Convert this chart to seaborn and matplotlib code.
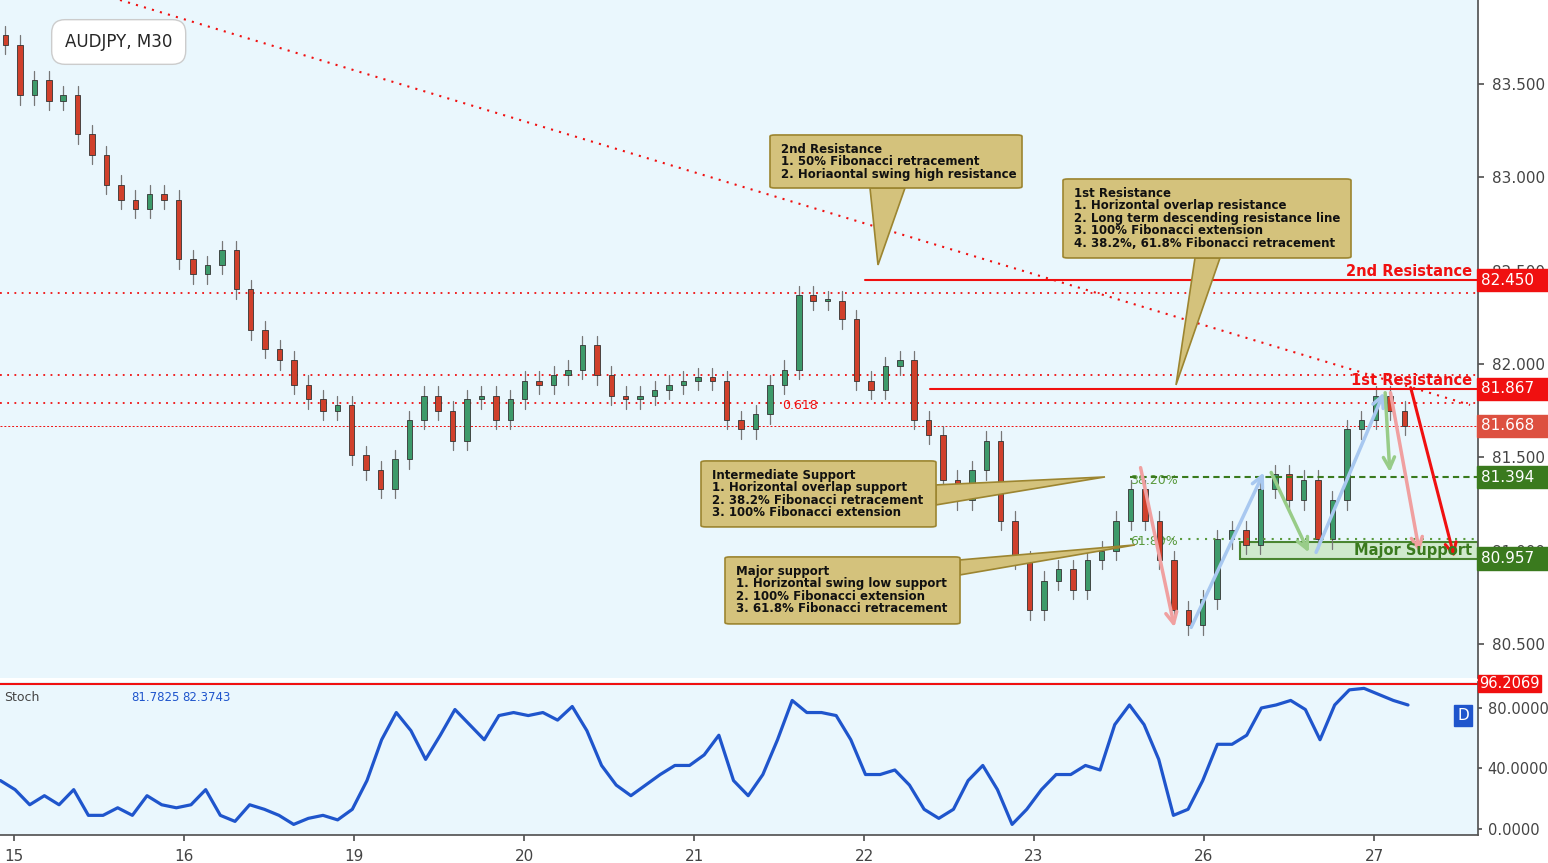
import numpy as np
import matplotlib
matplotlib.use("Agg")
import matplotlib.pyplot as plt
import seaborn as sns
from matplotlib.patches import Rectangle, Polygon, FancyBboxPatch

# Datos (precio de cierre cada ~2h, eje x en dias desde el 15)
close = [83.71, 83.44, 83.52, 83.41, 83.44, 83.23, 83.12, 82.96, 82.88, 82.83, 82.91, 82.88,
         82.56, 82.48, 82.53, 82.61, 82.40, 82.18, 82.08, 82.02, 81.89, 81.81, 81.75, 81.78,
         81.51, 81.43, 81.33, 81.49, 81.70, 81.83, 81.75, 81.59, 81.81, 81.83, 81.70, 81.81,
         81.91, 81.89, 81.94, 81.97, 82.10, 81.94, 81.83, 81.81, 81.83, 81.86, 81.89, 81.91,
         81.93, 81.91, 81.70, 81.65, 81.73, 81.89, 81.97, 82.37, 82.34, 82.34, 82.24, 81.91,
         81.86, 81.99, 82.02, 81.70, 81.62, 81.38, 81.27, 81.43, 81.59, 81.16, 80.95, 80.68,
         80.84, 80.90, 80.79, 80.95, 81.00, 81.16, 81.33, 81.16, 80.95, 80.68, 80.60, 80.74,
         81.06, 81.11, 81.03, 81.33, 81.41, 81.27, 81.38, 81.06, 81.27, 81.65, 81.70, 81.83,
         81.75, 81.67]
t_start, t_end = -0.05, 8.18

stoch = [32, 26, 16, 22, 16, 26, 9, 9, 14, 9, 22, 16, 14, 16, 26, 9, 5, 16, 13, 9, 3, 7, 9, 6,
         13, 32, 59, 77, 65, 46, 62, 79, 69, 59, 75, 77, 75, 77, 72, 81, 65, 42, 29, 22, 29, 36,
         42, 42, 49, 62, 32, 22, 36, 59, 85, 77, 77, 75, 59, 36, 36, 39, 29, 13, 7, 13, 32, 42,
         26, 3, 13, 26, 36, 36, 42, 39, 69, 82, 69, 46, 9, 13, 32, 56, 56, 62, 80, 82, 85, 79,
         59, 82, 92, 93, 89, 85, 82]
s_start, s_end = -0.08, 8.2

day_ticks = [0, 1, 2, 3, 4, 5, 6, 7, 8]
day_labels = ["15", "16", "19", "20", "21", "22", "23", "26", "27"]
price_ticks = [80.5, 81.0, 81.5, 82.0, 82.5, 83.0, 83.5]
stoch_ticks = [0, 40, 80]

res2, res1, cur, inter_sup, major_sup = 82.450, 81.867, 81.668, 81.394, 80.957

BG = "#eaf7fd"
RED = "#f01010"
GREEN_DK = "#3a7a1e"
TAN = "#d4c27c"
TAN_EDGE = "#9c8530"

W, H = 1548, 863
XL = (-14 / 170, 1464 / 170)
YL = (80.318, 83.95)


def px(x, y):
    """pixel -> coordenadas de datos del panel principal"""
    return (x - 14) / 170, 83.95 - y / 186.7


sns.set_theme(style="white")
plt.rcParams["font.family"] = ["DejaVu Sans"]
fig = plt.figure(figsize=(W / 100, H / 100), dpi=100)
fig.patch.set_facecolor("white")

ax = fig.add_axes([0, 1 - 678 / H, 1478 / W, 678 / H])
axs = fig.add_axes([0, 28 / H, 1478 / W, 153 / H])
for a in (ax, axs):
    a.set_facecolor(BG)
    for s in a.spines.values():
        s.set_visible(False)
    a.spines["right"].set_visible(True)
    a.spines["right"].set_color("#555555")
    a.set_xlim(*XL)
ax.set_ylim(*YL)
axs.set_ylim(-4, 97.2)

# velas
times = np.linspace(t_start, t_end, len(close))
w = (times[1] - times[0]) * 0.38
prev = close[0] + 0.05
for t, c in zip(times, close):
    o = prev
    hi, lo = max(o, c) + 0.05, min(o, c) - 0.05
    ax.plot([t, t], [lo, hi], color="#777777", lw=0.9, zorder=3)
    col = "#3d9a6a" if c >= o else "#d0402b"
    ax.add_patch(Rectangle((t - w / 2, min(o, c)), w, max(abs(c - o), 0.008),
                           facecolor=col, edgecolor="#333333", lw=0.6, zorder=4))
    prev = c

# lineas horizontales
for lv in (82.38, 81.94, 81.79):
    ax.axhline(lv, color=RED, ls=(0, (1, 3)), lw=1.3, zorder=2)
ax.axhline(cur, color=RED, ls=(0, (2, 2)), lw=0.7, zorder=2)
ax.plot([px(865, 0)[0], XL[1]], [res2, res2], color=RED, lw=1.5, zorder=5)
ax.plot([px(930, 0)[0], XL[1]], [res1, res1], color=RED, lw=1.5, zorder=5)
ax.plot([px(1130, 0)[0], XL[1]], [inter_sup, inter_sup], color=GREEN_DK, ls=(0, (3, 2)), lw=1.5, zorder=5)
ax.plot([px(1130, 0)[0], XL[1]], [81.06, 81.06], color="#5a9a3e", ls=(0, (1, 3)), lw=1.5, zorder=5)
x0 = px(1240, 0)[0]
ax.add_patch(Rectangle((x0, major_sup), XL[1] - x0, 0.09, facecolor="#cde8c8",
                       edgecolor=GREEN_DK, lw=1.5, alpha=0.9, zorder=2))
ax.text(*px(1130, 481), "38.20%", color="#5a9a3e", fontsize=9, va="center")
ax.text(*px(1130, 542), "61.80%", color="#5a9a3e", fontsize=9, va="center")
ax.text(*px(782, 406), "0.618", color=RED, fontsize=9, va="center")

# linea de tendencia descendente
ax.plot([px(120, 0)[0], px(1470, 405)[0]], [px(120, 0)[1], px(1470, 405)[1]],
        color=RED, ls=(0, (1, 3)), lw=1.5, zorder=2)

# flechas
arrows = [((1140, 465), (1175, 630), "#f0a0a0"), ((1190, 630), (1265, 470), "#a8c8f0"),
          ((1270, 470), (1310, 555), "#98cc88"), ((1315, 555), (1385, 390), "#a8c8f0"),
          ((1385, 390), (1390, 475), "#98cc88"), ((1390, 390), (1420, 555), "#f0a0a0"),
          ((1410, 385), (1455, 560), RED)]
for (a0, a1, c) in arrows:
    ax.annotate("", xy=px(*a1), xytext=px(*a0),
                arrowprops=dict(arrowstyle="->", color=c, lw=2.2 if c == RED else 2.5,
                                mutation_scale=20), zorder=6)

ax.text(*px(1472, 272), "2nd Resistance", color=RED, fontsize=10.5, fontweight="bold",
        ha="right", va="center", zorder=7)
ax.text(*px(1472, 381), "1st Resistance", color=RED, fontsize=10.5, fontweight="bold",
        ha="right", va="center", zorder=7)
ax.text(*px(1472, 551), "Major Support", color=GREEN_DK, fontsize=10.5, fontweight="bold",
        ha="right", va="center", zorder=7)

# globos de texto
callouts = [
    ((770, 135, 1022, 188), [(870, 188), (905, 188), (878, 265)],
     "2nd Resistance\n1. 50% Fibonacci retracement\n2. Horiaontal swing high resistance"),
    ((1063, 179, 1351, 258), [(1195, 258), (1220, 258), (1176, 385)],
     "1st Resistance\n1. Horizontal overlap resistance\n2. Long term descending resistance line\n"
     "3. 100% Fibonacci extension\n4. 38.2%, 61.8% Fibonacci retracement"),
    ((701, 461, 936, 527), [(936, 485), (936, 505), (1105, 477)],
     "Intermediate Support\n1. Horizontal overlap support\n2. 38.2% Fibonacci retracement\n"
     "3. 100% Fibonacci extension"),
    ((725, 557, 960, 624), [(960, 560), (960, 575), (1135, 545)],
     "Major support\n1. Horizontal swing low support\n2. 100% Fibonacci extension\n"
     "3. 61.8% Fibonacci retracement"),
]
for (x1, y1, x2, y2), tri, txt in callouts:
    (dx1, dy1), (dx2, dy2) = px(x1, y2), px(x2, y1)
    ax.add_patch(FancyBboxPatch((dx1, dy1), dx2 - dx1, dy2 - dy1,
                                boxstyle="round,pad=0,rounding_size=0.03", facecolor=TAN,
                                edgecolor=TAN_EDGE, lw=1.2, zorder=8, mutation_aspect=0.25))
    ax.add_patch(Polygon([px(*p) for p in tri], closed=True, facecolor=TAN,
                         edgecolor=TAN_EDGE, lw=1.2, zorder=7))
    ax.text(*px(x1 + 11, y1 + 8), txt, fontsize=8.5, fontweight="bold", va="top",
            ha="left", linespacing=0.95, zorder=9, color="#111111")

ax.text(*px(65, 42), "AUDJPY, M30", fontsize=12, va="center", zorder=9,
        bbox=dict(boxstyle="round,pad=0.8", facecolor="white", edgecolor="#cccccc"))

# eje de precios
ax.yaxis.tick_right()
ax.set_yticks(price_ticks)
ax.set_yticklabels([f"{v:.3f}" for v in price_ticks], fontsize=11, color="#444444")
ax.tick_params(axis="y", length=4, color="#555555", pad=6)
ax.set_xticks([])
for lv, c in [(res2, RED), (res1, RED), (cur, "#dd5040"), (inter_sup, GREEN_DK), (major_sup, GREEN_DK)]:
    ax.text(1.002, lv, f"{lv:.3f}  ", transform=ax.get_yaxis_transform(), color="white",
            fontsize=11, va="center", ha="left", clip_on=False, zorder=10,
            bbox=dict(boxstyle="square,pad=0.25", facecolor=c, edgecolor=c))

# estocastico
st = np.linspace(s_start, s_end, len(stoch))
sns.lineplot(x=st, y=stoch, ax=axs, color="#1f55cc", lw=2.3)
axs.axhline(96.2069, color=RED, lw=1.5)
axs.yaxis.tick_right()
axs.set_yticks(stoch_ticks)
axs.set_yticklabels([f"{v:.4f}" for v in stoch_ticks], fontsize=10.5, color="#444444")
axs.tick_params(axis="y", length=3, color="#555555", pad=4)
axs.text(1.001, 96.2069, "96.2069", transform=axs.get_yaxis_transform(), color="white",
         fontsize=10.5, va="center", ha="left", clip_on=False,
         bbox=dict(boxstyle="square,pad=0.1", facecolor=RED, edgecolor=RED))
axs.text(0.003, 0.9, "Stoch", transform=axs.transAxes, fontsize=9, color="#444444", va="center")
axs.text(0.089, 0.9, "81.7825", transform=axs.transAxes, fontsize=8.5, color="#1f55cc", va="center")
axs.text(0.123, 0.9, "82.3743", transform=axs.transAxes, fontsize=8.5, color="#1f55cc", va="center")
axs.text(0.99, 0.78, "D", transform=axs.transAxes, fontsize=11, color="white", ha="center", va="center",
         bbox=dict(boxstyle="square,pad=0.2", facecolor="#1f55cc", edgecolor="#1f55cc"))
axs.set_xticks(day_ticks)
axs.set_xticklabels(day_labels, fontsize=11, color="#444444")
axs.tick_params(axis="x", length=4, color="#555555", pad=6, bottom=True)
axs.spines["bottom"].set_visible(True)
axs.spines["bottom"].set_color("#555555")

fig.savefig("out.png", dpi=100, facecolor="white")
